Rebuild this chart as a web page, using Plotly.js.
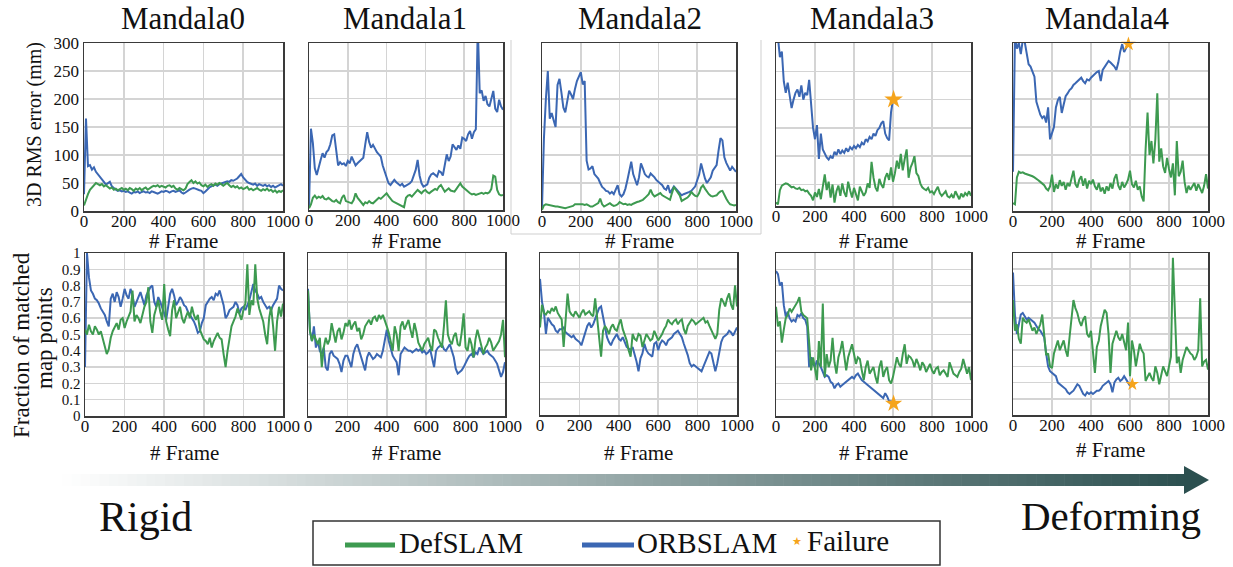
<!DOCTYPE html>
<html><head><meta charset="utf-8">
<script src="https://cdn.plot.ly/plotly-3.0.1.min.js"></script>
<style>html,body{margin:0;padding:0;background:#fff}#chart{width:1233px;height:567px}</style>
</head><body><div id="chart"></div>
<script>
// ---------------- DATA ----------------
const FRAMES = [0,10,20,30,40,50,60,70,80,90,100,110,120,130,140,150,160,170,180,190,200,210,220,230,240,250,260,270,280,290,300,310,320,330,340,350,360,370,380,390,400,410,420,430,440,450,460,470,480,490,500,510,520,530,540,550,560,570,580,590,600,610,620,630,640,650,660,670,680,690,700,710,720,730,740,750,760,770,780,790,800,810,820,830,840,850,860,870,880,890,900,910,920,930,940,950,960,970,980,990,1000];
const TITLES = ['Mandala0','Mandala1','Mandala2','Mandala3','Mandala4'];
const X_TICKS = [0,200,400,600,800,1000];
const X_LABELS = ['0','200','400','600','800','1000'];
const RMS_TICKS = [0,50,100,150,200,250,300];
const RMS_LABELS = ['0','50','100','150','200','250','300'];
const FRAC_TICKS = [0,0.1,0.2,0.3,0.4,0.5,0.6,0.7,0.8,0.9,1];
const FRAC_LABELS = ['0','0.1','0.2','0.3','0.4','0.5','0.6','0.7','0.8','0.9','1'];
const SERIES_NAMES = ['DefSLAM','ORBSLAM','Failure'];

// 3D RMS error (mm)
const m0_rms_orb = [30,165,80,82,74,78,70,66,60,58, 52,47,50,52,44,40,38,36,37,35, 36,34,35,33,31,34,33,35,32,34, 35,33,34,32,35,34,33,31,33,35, 34,36,35,33,35,36,34,35,37,33, 31,33,36,38,40,41,40,38,37,36, 32,35,39,42,44,46,47,45,48,49, 50,51,53,52,55,54,56,58,62,66, 60,55,52,50,48,47,49,45,48,46, 45,47,44,46,43,45,42,44,46,48, 45];
const m0_rms_def = [10,22,30,38,42,46,50,48,46,48, 44,46,43,40,42,38,40,37,39,41, 38,40,37,41,39,36,40,38,41,37, 40,42,38,41,43,45,44,46,43,45, 44,42,45,46,43,45,40,38,41,39, 37,40,48,52,55,50,53,49,51,46, 44,47,43,46,48,45,49,47,50,48, 45,48,50,46,43,45,42,44,40,42, 39,41,43,38,40,37,39,41,38,36, 39,37,40,36,38,34,37,33,36,34, 37];
const m1_rms_orb = [5,146,120,75,63,78,90,102,94,104, 108,118,134,136,110,80,86,82,84,79, 88,84,96,86,80,84,88,90,94,118, 140,122,112,117,110,104,100,96,80,68, 60,48,45,50,54,50,46,44,47,42, 44,46,48,52,62,72,90,62,48,42, 44,46,58,64,66,62,60,70,68,62, 84,100,88,96,118,112,108,116,110,130, 128,124,136,142,128,140,145,330,210,215, 196,205,190,186,200,214,182,176,198,186, 180];
const m1_rms_def = [3,10,22,26,21,24,22,25,20,19, 22,18,16,15,18,14,12,22,27,16, 15,13,12,18,30,22,18,14,9,14, 12,16,13,12,15,18,22,20,24,28, 30,25,20,16,14,12,10,8,6,5, 22,26,27,24,28,32,36,33,30,34, 36,32,30,33,35,38,36,42,45,38, 33,36,39,35,34,33,38,44,48,42, 39,36,32,30,28,29,27,28,30,31, 29,31,30,32,38,62,60,36,28,26, 27];
const m2_rms_orb = [5,130,200,250,165,175,162,150,225,236, 212,185,176,200,215,208,200,218,232,240, 248,226,232,90,74,76,80,66,62,58, 50,43,40,36,35,31,34,30,38,46, 30,26,30,40,55,70,88,66,55,46, 60,85,76,66,62,60,67,64,60,55, 52,48,46,40,38,46,32,38,44,40, 36,30,28,30,31,33,34,36,40,44, 55,65,85,70,58,50,55,60,72,78, 82,108,130,126,96,86,78,72,79,74, 70];
const m2_rms_def = [2,10,12,11,10,10,9,8,8,7, 6,6,5,6,7,7,9,12,12,13, 12,12,11,12,10,8,8,10,12,14, 22,12,8,10,12,14,11,9,10,12, 16,14,12,13,11,12,11,13,15,16, 17,18,20,23,26,30,38,30,26,28, 30,32,28,26,25,22,20,32,43,38, 34,28,18,20,22,24,28,34,30,27, 26,32,42,46,40,34,30,27,26,27, 28,32,35,36,28,22,16,12,11,10, 11];
const m3_rms_orb = [320,310,275,285,232,212,230,205,185,200, 212,218,205,225,200,212,208,235,195,150, 130,155,95,140,112,105,98,94,100,96, 108,102,112,104,110,106,114,108,116,112, 118,114,120,116,124,120,130,126,134,130, 140,136,146,150,158,162,140,132,128,178, 200];
const m3_rms_def = [18,15,40,48,50,52,51,47,45,46, 43,42,44,40,41,38,39,34,30,22, 36,28,42,24,50,68,40,55,27,50, 18,38,48,30,52,36,28,55,40,27, 44,34,22,46,38,30,36,52,44,90, 62,45,38,60,50,44,62,70,58,80, 55,70,92,78,104,75,95,112,62,80, 88,100,70,65,52,45,42,40,44,36, 38,33,40,46,35,30,34,38,29,27, 32,26,38,30,24,34,28,35,31,38, 30];
const m4_rms_orb = [70,310,290,300,280,305,302,282,262,258, 250,240,195,182,172,166,170,158,185,128, 140,150,185,198,204,175,190,205,210,216, 219,225,228,232,234,238,232,228,235,233, 238,242,245,248,250,232,252,257,262,268, 265,262,258,252,265,285,298,284,290,298];
const m4_rms_def = [14,12,60,70,68,69,67,66,65,64, 62,60,58,55,52,49,46,40,37,44, 65,34,48,40,55,45,52,38,50,44, 60,72,48,42,56,62,45,58,40,54, 48,56,44,38,50,35,42,31,44,36, 50,40,58,66,45,38,52,42,48,56, 72,48,42,54,38,44,26,17,110,176, 100,125,85,128,210,88,112,80,68,95, 75,60,85,28,125,62,70,90,52,32, 45,38,44,50,36,48,40,32,45,66, 40];

// Fraction of matched map points
const m0_frac_orb = [0.30,1.0,0.85,0.77,0.75,0.72,0.71,0.69,0.66,0.64, 0.62,0.58,0.55,0.72,0.75,0.70,0.76,0.73,0.67,0.72, 0.78,0.74,0.72,0.78,0.74,0.67,0.70,0.72,0.76,0.72, 0.68,0.74,0.77,0.79,0.80,0.70,0.67,0.73,0.70,0.67, 0.63,0.59,0.68,0.75,0.78,0.74,0.68,0.70,0.73,0.71, 0.68,0.67,0.64,0.62,0.60,0.58,0.55,0.51,0.52,0.57, 0.60,0.68,0.70,0.72,0.73,0.71,0.75,0.74,0.77,0.73, 0.68,0.60,0.62,0.65,0.66,0.67,0.70,0.68,0.63,0.66, 0.67,0.65,0.68,0.71,0.76,0.81,0.77,0.75,0.72,0.73, 0.70,0.68,0.66,0.67,0.65,0.68,0.70,0.72,0.80,0.78, 0.77];
const m0_frac_def = [0.53,0.50,0.56,0.52,0.50,0.55,0.53,0.50,0.52,0.47, 0.42,0.38,0.41,0.48,0.52,0.55,0.57,0.53,0.59,0.60, 0.54,0.58,0.61,0.64,0.77,0.58,0.62,0.60,0.57,0.62, 0.67,0.70,0.79,0.58,0.51,0.62,0.66,0.71,0.64,0.59, 0.81,0.58,0.53,0.49,0.65,0.71,0.60,0.63,0.67,0.60, 0.57,0.61,0.64,0.60,0.67,0.62,0.59,0.62,0.53,0.50, 0.47,0.46,0.44,0.48,0.42,0.46,0.49,0.51,0.48,0.47, 0.38,0.30,0.40,0.48,0.55,0.58,0.61,0.66,0.62,0.59, 0.65,0.69,0.93,0.62,0.71,0.68,0.93,0.72,0.66,0.62, 0.58,0.50,0.44,0.60,0.67,0.55,0.40,0.58,0.67,0.61, 0.69];
const m1_frac_orb = [0.78,0.52,0.46,0.55,0.42,0.46,0.40,0.38,0.42,0.30, 0.28,0.38,0.40,0.37,0.36,0.35,0.32,0.27,0.34,0.37, 0.37,0.33,0.30,0.38,0.42,0.44,0.40,0.36,0.31,0.28, 0.36,0.39,0.37,0.35,0.36,0.38,0.37,0.36,0.40,0.47, 0.53,0.46,0.41,0.37,0.35,0.33,0.25,0.38,0.40,0.42, 0.41,0.40,0.40,0.39,0.40,0.41,0.40,0.41,0.39,0.40, 0.38,0.39,0.41,0.36,0.30,0.40,0.42,0.43,0.44,0.41, 0.40,0.42,0.44,0.40,0.36,0.29,0.26,0.27,0.28,0.30, 0.33,0.35,0.37,0.38,0.36,0.39,0.38,0.42,0.40,0.38, 0.39,0.40,0.38,0.37,0.36,0.34,0.32,0.28,0.24,0.27, 0.33];
const m1_frac_def = [0.77,0.52,0.46,0.50,0.47,0.44,0.48,0.30,0.42,0.48, 0.44,0.47,0.57,0.50,0.45,0.52,0.54,0.47,0.51,0.57, 0.55,0.59,0.53,0.56,0.58,0.52,0.54,0.47,0.50,0.55, 0.57,0.59,0.56,0.60,0.61,0.58,0.62,0.60,0.62,0.59, 0.55,0.51,0.45,0.40,0.55,0.50,0.40,0.55,0.58,0.53, 0.56,0.59,0.53,0.48,0.57,0.52,0.45,0.42,0.40,0.44, 0.46,0.48,0.43,0.40,0.53,0.52,0.48,0.45,0.42,0.55, 0.71,0.50,0.46,0.44,0.49,0.51,0.44,0.43,0.51,0.63, 0.42,0.40,0.48,0.44,0.36,0.47,0.53,0.48,0.42,0.38, 0.42,0.44,0.48,0.45,0.40,0.42,0.44,0.46,0.50,0.59, 0.36];
const m2_frac_orb = [0.84,0.70,0.64,0.50,0.60,0.58,0.56,0.55,0.52,0.51, 0.53,0.53,0.54,0.51,0.50,0.49,0.48,0.49,0.47,0.46, 0.45,0.43,0.47,0.50,0.55,0.57,0.54,0.56,0.59,0.62, 0.66,0.67,0.60,0.53,0.48,0.45,0.43,0.46,0.48,0.50, 0.47,0.46,0.48,0.45,0.42,0.41,0.40,0.42,0.38,0.33, 0.27,0.35,0.38,0.44,0.40,0.38,0.37,0.36,0.44,0.45, 0.40,0.44,0.46,0.45,0.43,0.46,0.47,0.48,0.50,0.51, 0.52,0.50,0.48,0.44,0.41,0.37,0.32,0.30,0.31,0.30, 0.29,0.28,0.27,0.30,0.33,0.36,0.39,0.38,0.33,0.27, 0.32,0.40,0.45,0.48,0.49,0.50,0.52,0.51,0.49,0.52, 0.54];
const m2_frac_def = [0.54,0.68,0.63,0.62,0.64,0.63,0.66,0.64,0.67,0.63, 0.61,0.59,0.42,0.58,0.75,0.64,0.62,0.61,0.64,0.62, 0.60,0.63,0.65,0.62,0.63,0.64,0.62,0.61,0.72,0.60, 0.48,0.36,0.52,0.55,0.53,0.50,0.54,0.56,0.53,0.52, 0.56,0.59,0.53,0.50,0.46,0.40,0.36,0.50,0.47,0.46, 0.50,0.49,0.42,0.46,0.50,0.48,0.46,0.47,0.52,0.49, 0.46,0.48,0.50,0.53,0.55,0.59,0.57,0.56,0.58,0.59, 0.56,0.58,0.59,0.53,0.50,0.55,0.57,0.59,0.58,0.56, 0.57,0.58,0.59,0.60,0.57,0.58,0.55,0.52,0.49,0.47, 0.50,0.65,0.72,0.70,0.67,0.72,0.75,0.68,0.65,0.80, 0.67];
const m3_frac_orb = [0.89,0.87,0.80,0.82,0.68,0.61,0.64,0.60,0.58,0.59, 0.58,0.62,0.61,0.63,0.60,0.59,0.55,0.30,0.36,0.32, 0.30,0.34,0.32,0.30,0.27,0.24,0.25,0.24,0.21,0.20, 0.17,0.19,0.20,0.18,0.19,0.20,0.21,0.22,0.23,0.24, 0.23,0.25,0.26,0.24,0.22,0.21,0.20,0.19,0.18,0.17, 0.16,0.15,0.14,0.13,0.12,0.11,0.14,0.12,0.09,0.09, 0.08];
const m3_frac_def = [0.67,0.55,0.58,0.45,0.53,0.60,0.62,0.66,0.64,0.66, 0.68,0.70,0.73,0.64,0.62,0.61,0.60,0.45,0.28,0.36, 0.30,0.22,0.46,0.30,0.69,0.24,0.38,0.30,0.34,0.48, 0.33,0.26,0.36,0.40,0.46,0.38,0.28,0.36,0.40,0.44, 0.38,0.32,0.36,0.35,0.28,0.22,0.30,0.34,0.26,0.28, 0.30,0.24,0.20,0.30,0.34,0.24,0.28,0.30,0.22,0.20, 0.24,0.30,0.36,0.32,0.30,0.38,0.44,0.32,0.37,0.36, 0.34,0.30,0.35,0.32,0.28,0.33,0.31,0.27,0.30,0.32, 0.28,0.26,0.29,0.30,0.25,0.27,0.28,0.26,0.24,0.33, 0.30,0.26,0.25,0.24,0.27,0.29,0.35,0.30,0.26,0.30, 0.22];
const m4_frac_orb = [0.88,0.62,0.50,0.56,0.62,0.63,0.61,0.59,0.60,0.59, 0.58,0.57,0.55,0.53,0.52,0.50,0.48,0.38,0.30,0.27, 0.26,0.25,0.24,0.20,0.19,0.18,0.17,0.16,0.14,0.13, 0.14,0.15,0.17,0.19,0.18,0.15,0.13,0.12,0.14,0.13, 0.14,0.13,0.14,0.15,0.15,0.16,0.18,0.19,0.20,0.21, 0.19,0.14,0.20,0.22,0.23,0.21,0.22,0.24,0.22,0.20, 0.18];
const m4_frac_def = [0.71,0.52,0.56,0.47,0.44,0.60,0.58,0.57,0.59,0.55, 0.52,0.54,0.50,0.53,0.56,0.62,0.50,0.37,0.38,0.30, 0.29,0.38,0.42,0.46,0.40,0.43,0.46,0.40,0.36,0.48, 0.58,0.71,0.66,0.63,0.58,0.55,0.59,0.61,0.50,0.48, 0.52,0.40,0.26,0.42,0.46,0.55,0.60,0.65,0.63,0.50, 0.26,0.44,0.48,0.52,0.48,0.46,0.50,0.45,0.40,0.57, 0.24,0.46,0.40,0.30,0.38,0.44,0.40,0.38,0.21,0.24, 0.26,0.23,0.21,0.30,0.26,0.19,0.25,0.30,0.27,0.24, 0.30,0.36,0.97,0.57,0.32,0.36,0.26,0.34,0.38,0.42, 0.40,0.38,0.37,0.34,0.36,0.40,0.72,0.30,0.33,0.34, 0.28];

// Failure points (frame, value)
const fail_rms_m3 = [603, 200];
const fail_rms_m4 = [592, 298];
const fail_frac_m3 = [603, 0.076];
const fail_frac_m4 = [612, 0.19];

// ---------------- LAYOUT / STYLE ----------------
const W = 1233, H = 567;
const SERIF = 'Liberation Serif, DejaVu Serif, serif';
const GREEN = '#3d9a50', BLUE = '#3b67b3', ORANGE = '#f5a41c';
const px = x => x / W, py = y => 1 - y / H;

const BOX = [
  {l:84,r:283,t:43,b:211},{l:309,r:503,t:43,b:210},{l:542,r:736,t:43,b:211},{l:776,r:971,t:43,b:206},{l:1013,r:1208,t:43,b:211},
  {l:85,r:283,t:253,b:416},{l:308,r:505,t:253,b:416},{l:540,r:737,t:253,b:415},{l:776,r:971,t:253,b:416},{l:1013,r:1208,t:253,b:415}
];
const PANELS = [
  {orb:m0_rms_orb, def:m0_rms_def, fail:null, yr:[0,300]},
  {orb:m1_rms_orb, def:m1_rms_def, fail:null, yr:[0,300]},
  {orb:m2_rms_orb, def:m2_rms_def, fail:null, yr:[0,300]},
  {orb:m3_rms_orb, def:m3_rms_def, fail:fail_rms_m3, yr:[12,300], ss:14},
  {orb:m4_rms_orb, def:m4_rms_def, fail:fail_rms_m4, yr:[0,300], ss:11},
  {orb:m0_frac_orb, def:m0_frac_def, fail:null, yr:[0,1]},
  {orb:m1_frac_orb, def:m1_frac_def, fail:null, yr:[0,1]},
  {orb:m2_frac_orb, def:m2_frac_def, fail:null, yr:[0,1]},
  {orb:m3_frac_orb, def:m3_frac_def, fail:fail_frac_m3, yr:[0,1], ss:13},
  {orb:m4_frac_orb, def:m4_frac_def, fail:fail_frac_m4, yr:[0,1], ss:10}
];

const traces = [];
const layout = {
  width: W, height: H, margin: {l:0,r:0,t:0,b:0},
  paper_bgcolor: '#fff', plot_bgcolor: '#fff', showlegend: false,
  font: {family: SERIF, color: '#111'},
  shapes: [], annotations: []
};

PANELS.forEach((p, i) => {
  const n = i + 1, sx = n === 1 ? '' : String(n);
  const b = BOX[i];
  const row1 = i < 5;
  traces.push({x: FRAMES.slice(0, p.orb.length), y: p.orb, xaxis: 'x'+sx, yaxis: 'y'+sx, type: 'scatter', mode: 'lines',
    name: SERIES_NAMES[1], line: {color: BLUE, width: 2}, hoverinfo: 'skip'});
  traces.push({x: FRAMES.slice(0, p.def.length), y: p.def, xaxis: 'x'+sx, yaxis: 'y'+sx, type: 'scatter', mode: 'lines',
    name: SERIES_NAMES[0], line: {color: GREEN, width: 2}, hoverinfo: 'skip'});
  if (p.fail) {
    traces.push({x: [p.fail[0]], y: [p.fail[1]], xaxis: 'x'+sx, yaxis: 'y'+sx, type: 'scatter', mode: 'markers',
      name: SERIES_NAMES[2], marker: {symbol: 'star', size: p.ss, color: ORANGE, line: {width: 0}}, cliponaxis: false, hoverinfo: 'skip'});
  }
  const common = {showgrid: true, gridcolor: '#d4d4d4', gridwidth: 1.5, showline: true, mirror: true,
    linecolor: '#3a3a3a', linewidth: 1.5, zeroline: false, ticks: '', ticklen: 0, fixedrange: true};
  layout['xaxis'+sx] = Object.assign({}, common, {domain: [px(b.l), px(b.r)], anchor: 'y'+sx, range: [0, 1000],
    tickmode: 'array', tickvals: X_TICKS, ticktext: X_LABELS, ticklabelstandoff: -6,
    tickfont: {family: SERIF, size: 17, color: '#111'}});
  layout['yaxis'+sx] = Object.assign({}, common, {domain: [py(b.b), py(b.t)], anchor: 'x'+sx, range: p.yr,
    tickmode: 'array', tickvals: row1 ? RMS_TICKS : FRAC_TICKS, ticktext: row1 ? RMS_LABELS : FRAC_LABELS,
    tickfont: {family: SERIF, size: row1 ? 17 : 15, color: '#111'},
    showticklabels: (i === 0 || i === 5)});
  layout.annotations.push({text: '# Frame', xref: 'paper', yref: 'paper', x: px((b.l + b.r) / 2),
    y: py(row1 ? 241 : (i === 9 ? 450 : 453)), xanchor: 'center', yanchor: 'middle', showarrow: false,
    font: {family: SERIF, size: 21, color: '#111'}});
});

// Column titles
const TITLE_X = [183, 405, 640, 872, 1107];
TITLES.forEach((t, k) => layout.annotations.push({text: t, xref: 'paper', yref: 'paper', x: px(TITLE_X[k]), y: py(18),
  xanchor: 'center', yanchor: 'middle', showarrow: false, font: {family: SERIF, size: 31, color: '#111'}}));

// Y axis titles
layout.annotations.push({text: '3D RMS error (mm)', xref: 'paper', yref: 'paper', x: px(35), y: py(125), textangle: -90,
  xanchor: 'center', yanchor: 'middle', showarrow: false, font: {family: SERIF, size: 20, color: '#111'}});
layout.annotations.push({text: 'Fraction of matched', xref: 'paper', yref: 'paper', x: px(21), y: py(345), textangle: -90,
  xanchor: 'center', yanchor: 'middle', showarrow: false, font: {family: SERIF, size: 23, color: '#111'}});
layout.annotations.push({text: 'map points', xref: 'paper', yref: 'paper', x: px(44), y: py(338), textangle: -90,
  xanchor: 'center', yanchor: 'middle', showarrow: false, font: {family: SERIF, size: 23, color: '#111'}});

// faint frame left around the Mandala2 RMS plot
layout.shapes.push({type: 'path', xref: 'paper', yref: 'paper',
  path: `M ${px(511)} ${py(40)} L ${px(511)} ${py(234)} L ${px(761)} ${py(234)} L ${px(761)} ${py(40)}`,
  line: {color: '#cfcfcf', width: 1}});

// gradient arrow (Rigid -> Deforming)
const GX0 = 62, GX1 = 1186, NSEG = 120;
const C0 = [255,255,255], C1 = [44,80,80];
for (let s = 0; s < NSEG; s++) {
  const t = (s + 0.5) / NSEG;
  const c = C0.map((v, j) => Math.round(v + (C1[j] - v) * t));
  const xa = GX0 + (GX1 - GX0) * s / NSEG, xb = GX0 + (GX1 - GX0) * (s + 1) / NSEG + 0.6;
  layout.shapes.push({type: 'rect', xref: 'paper', yref: 'paper', x0: px(xa), x1: px(xb), y0: py(486), y1: py(474),
    fillcolor: `rgb(${c[0]},${c[1]},${c[2]})`, line: {width: 0}});
}
layout.shapes.push({type: 'path', xref: 'paper', yref: 'paper',
  path: `M ${px(1184)} ${py(466)} L ${px(1209)} ${py(480)} L ${px(1184)} ${py(494)} Z`,
  fillcolor: 'rgb(44,80,80)', line: {width: 0}});
layout.annotations.push({text: 'Rigid', xref: 'paper', yref: 'paper', x: px(145), y: py(517), xanchor: 'center', yanchor: 'middle',
  showarrow: false, font: {family: SERIF, size: 42, color: '#111'}});
layout.annotations.push({text: 'Deforming', xref: 'paper', yref: 'paper', x: px(1111), y: py(516), xanchor: 'center', yanchor: 'middle',
  showarrow: false, font: {family: SERIF, size: 41, color: '#111'}});

// custom legend box
layout.shapes.push({type: 'rect', xref: 'paper', yref: 'paper', x0: px(313), x1: px(940), y0: py(565), y1: py(521),
  line: {color: '#333', width: 1.5}, fillcolor: 'rgba(0,0,0,0)'});
layout.shapes.push({type: 'line', xref: 'paper', yref: 'paper', x0: px(345), x1: px(395), y0: py(545), y1: py(545),
  line: {color: GREEN, width: 5}});
layout.shapes.push({type: 'line', xref: 'paper', yref: 'paper', x0: px(582), x1: px(634), y0: py(545), y1: py(545),
  line: {color: BLUE, width: 5}});
layout.annotations.push({text: SERIES_NAMES[0], xref: 'paper', yref: 'paper', x: px(397), y: py(543), xanchor: 'left', yanchor: 'middle',
  showarrow: false, font: {family: SERIF, size: 29, color: '#111'}});
layout.annotations.push({text: SERIES_NAMES[1], xref: 'paper', yref: 'paper', x: px(635), y: py(543), xanchor: 'left', yanchor: 'middle',
  showarrow: false, font: {family: SERIF, size: 29, color: '#111'}});
layout.annotations.push({text: '★', xref: 'paper', yref: 'paper', x: px(797), y: py(541), xanchor: 'center', yanchor: 'middle',
  showarrow: false, font: {family: 'DejaVu Sans', size: 11, color: ORANGE}});
layout.annotations.push({text: SERIES_NAMES[2], xref: 'paper', yref: 'paper', x: px(805), y: py(541), xanchor: 'left', yanchor: 'middle',
  showarrow: false, font: {family: SERIF, size: 29, color: '#111'}});

Plotly.newPlot('chart', traces, layout, {staticPlot: true, displayModeBar: false});
</script>
</body></html>
